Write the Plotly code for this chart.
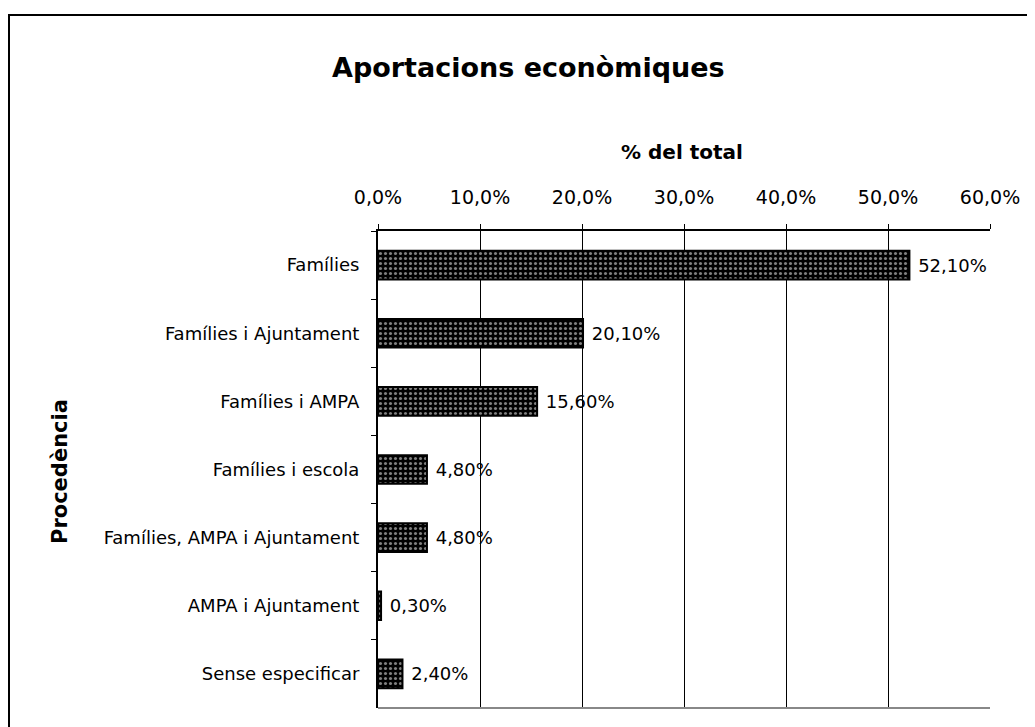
import plotly.graph_objects as go

categories = ["Famílies", "Famílies i Ajuntament", "Famílies i AMPA", "Famílies i escola",
              "Famílies, AMPA i Ajuntament", "AMPA i Ajuntament", "Sense especificar"]
values = [52.1, 20.1, 15.6, 4.8, 4.8, 0.3, 2.4]
tick_vals = [0, 10, 20, 30, 40, 50, 60]
tick_text = ["0,0%", "10,0%", "20,0%", "30,0%", "40,0%", "50,0%", "60,0%"]
labels = ["\u00a0" + f"{v:.2f}%".replace(".", ",") for v in values]

FONT = "DejaVu Sans, Verdana, sans-serif"

fig = go.Figure(go.Bar(
    x=values, y=categories, orientation="h",
    text=labels, textposition="outside", cliponaxis=False,
    textfont=dict(family=FONT, size=18, color="black"),
    marker=dict(color="black", line=dict(color="black", width=2),
                pattern=dict(shape=".", fgcolor="white", bgcolor="black", size=5, solidity=0.3)),
    width=0.42,
))

# page has 8px body margin; figure coords = reference px - 8
OFF = 8
W, H = 1035 - OFF, 727 - OFF
L, R, T, B = 378 - OFF, 990 - OFF, 231 - OFF, 708 - OFF
def px_x(p): return (p - OFF - L) / (R - L)
def px_y(p): return (B - (p - OFF)) / (B - T)

fig.update_layout(
    width=W, height=H,
    margin=dict(l=L, r=W - R, t=T, b=H - B),
    paper_bgcolor="white", plot_bgcolor="white",
    showlegend=False,
    font=dict(family=FONT, color="black"),
    xaxis=dict(side="top", range=[0, 60], tickvals=tick_vals, ticktext=tick_text,
               showgrid=True, gridcolor="black", gridwidth=1,
               showline=True, linecolor="black", linewidth=2,
               ticks="outside", ticklen=5, tickcolor="black", ticklabelstandoff=12,
               tickfont=dict(size=19, family=FONT), zeroline=False, fixedrange=True),
    yaxis=dict(autorange="reversed", showline=True, linecolor="black", linewidth=2,
               ticks="outside", ticklen=5, tickcolor="black", tickson="boundaries",
               tickfont=dict(size=18, family=FONT), ticklabelstandoff=13, fixedrange=True),
    shapes=[
        dict(type="rect", xref="paper", yref="paper",
             x0=px_x(9), x1=px_x(1045), y0=px_y(760), y1=px_y(15),
             line=dict(color="black", width=2), layer="below"),
        dict(type="line", xref="paper", yref="paper", x0=0, x1=1, y0=0, y1=0,
             line=dict(color="#888888", width=2)),
    ],
    annotations=[
        dict(text="<b>Aportacions econòmiques</b>", xref="paper", yref="paper",
             x=px_x(528), y=px_y(68), xanchor="center", yanchor="middle",
             showarrow=False, font=dict(size=27, family=FONT)),
        dict(text="<b>% del total</b>", xref="paper", yref="paper",
             x=px_x(682), y=px_y(152), xanchor="center", yanchor="middle",
             showarrow=False, font=dict(size=20, family=FONT)),
        dict(text="<b>Procedència</b>", xref="paper", yref="paper", textangle=-90,
             x=px_x(60), y=px_y(472), xanchor="center", yanchor="middle",
             showarrow=False, font=dict(size=21, family=FONT)),
    ],
)

fig.write_html("out.html")
